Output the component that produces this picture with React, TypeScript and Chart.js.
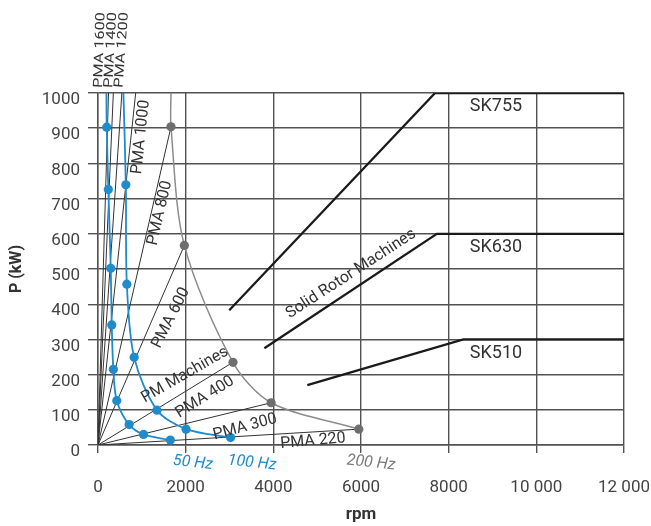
import { useEffect, useRef } from 'react';
import { Chart, registerables } from 'chart.js';

Chart.register(...registerables);

// ---------- data ----------
const xTickLabels = ['0', '2000', '4000', '6000', '8000', '10 000', '12 000'];

const pmaNames = ['PMA 220', 'PMA 300', 'PMA 400', 'PMA 600', 'PMA 800', 'PMA 1000', 'PMA 1200', 'PMA 1400', 'PMA 1600'];
const pmaEndRpm = [5950, 3950, 3080, 1970, 1665, 860, 545, 350, 240];
const pmaEndKw = [45, 120, 235, 567, 904, 1000, 1000, 1000, 1000];

const hz50Rpm = [1650, 1038, 710, 428, 350, 314, 291, 236, 199, 192];
const hz50Kw = [14, 30, 58, 126, 215, 341, 502, 726, 903, 1000];

const hz100Rpm = [3024, 2009, 1345, 825, 658, 635, 580];
const hz100Kw = [21, 45, 99, 249, 457, 739, 1000];

const hz200Rpm = [5950, 3950, 3080, 1970, 1665, 1665];
const hz200Kw = [45, 120, 235, 567, 904, 1000];

const sk755Rpm = [2995, 7690, 12000];
const sk755Kw = [383, 1000, 1000];
const sk630Rpm = [3795, 7730, 12000];
const sk630Kw = [275, 600, 600];
const sk510Rpm = [4775, 8335, 12000];
const sk510Kw = [170, 300, 300];

// ---------- styles ----------
const FONT = 'Roboto, "DejaVu Sans", sans-serif';
const BLUE = '#1f8bcb';
const GRAY_DOT = '#6e6e6e';
const GRAY_LINE = '#8c8c8c';
const DARK = '#333333';
const GRID = '#525252';

type Label = { text: string; x: number; y: number; rot: number; size: number; color: string; italic?: boolean; sx?: number };

const annotations: Label[] = [
  { text: 'PMA 1600', x: 46, y: 1122, rot: -88, size: 13, color: DARK, sx: 1.25 },
  { text: 'PMA 1400', x: 297, y: 1122, rot: -87, size: 13, color: DARK, sx: 1.25 },
  { text: 'PMA 1200', x: 548, y: 1122, rot: -86, size: 13, color: DARK, sx: 1.25 },
  { text: 'PMA 1000', x: 981, y: 875, rot: -84, size: 16, color: DARK },
  { text: 'PMA 800', x: 1414, y: 659, rot: -77, size: 16, color: DARK },
  { text: 'PMA 600', x: 1665, y: 361, rot: -63, size: 16, color: DARK },
  { text: 'PM Machines', x: 1985, y: 199, rot: -30, size: 16, color: DARK },
  { text: 'PMA 400', x: 2441, y: 136, rot: -32, size: 16, color: DARK },
  { text: 'PMA 300', x: 3354, y: 51, rot: -15, size: 16, color: DARK },
  { text: 'PMA 220', x: 4905, y: 11, rot: -5, size: 16, color: DARK },
  { text: 'Solid Rotor Machines', x: 5772, y: 486, rot: -33, size: 16, color: DARK },
  { text: 'SK755', x: 9080, y: 963, rot: 0, size: 18, color: DARK },
  { text: 'SK630', x: 9080, y: 562, rot: 0, size: 18, color: DARK },
  { text: 'SK510', x: 9080, y: 259, rot: 0, size: 18, color: DARK },
  { text: '50 Hz', x: 2167, y: -51, rot: 6, size: 16, color: BLUE, italic: true },
  { text: '100 Hz', x: 3513, y: -51, rot: 6, size: 16, color: BLUE, italic: true },
  { text: '200 Hz', x: 6228, y: -51, rot: 6, size: 16, color: '#7a7a7a', italic: true },
];

const pts = (xs: number[], ys: number[]) => xs.map((x, i) => ({ x, y: ys[i] }));

const labelPlugin = {
  id: 'labels',
  afterDatasetsDraw(chart: any) {
    const { ctx, scales } = chart;
    const xs = scales.x;
    const ys = scales.y;
    ctx.save();
    for (const a of annotations) {
      const px = xs.getPixelForValue(a.x);
      const py = ys.getPixelForValue(a.y);
      ctx.save();
      ctx.translate(px, py);
      ctx.rotate((a.rot * Math.PI) / 180);
      if (a.sx) ctx.scale(a.sx, 1);
      ctx.font = `${a.italic ? 'italic ' : ''}${a.size}px ${FONT}`;
      ctx.fillStyle = a.color;
      ctx.textAlign = 'center';
      ctx.textBaseline = 'middle';
      ctx.fillText(a.text, 0, 0);
      ctx.restore();
    }
    ctx.restore();
  },
};

const zeroPad = (s: any) => {
  s.paddingLeft = 0;
  s.paddingRight = 0;
  s.paddingTop = 0;
  s.paddingBottom = 0;
};

export default function App() {
  const ref = useRef<HTMLCanvasElement | null>(null);

  useEffect(() => {
    if (!ref.current) return;
    Chart.defaults.font.family = FONT;

    const lineDs = (data: any[], color: string, width: number, order: number, tension = 0) => ({
      data,
      showLine: true,
      borderColor: color,
      borderWidth: width,
      pointRadius: 0,
      pointHoverRadius: 0,
      tension,
      fill: false,
      order,
    });
    const dotDs = (data: any[], color: string) => ({
      data,
      showLine: false,
      pointRadius: 4.6,
      pointHoverRadius: 4.6,
      pointBackgroundColor: color,
      pointBorderWidth: 0,
      order: 0,
    });

    const datasets: any[] = [];
    pmaNames.forEach((name, i) => {
      datasets.push({ label: name, ...lineDs([{ x: 0, y: 0 }, { x: pmaEndRpm[i], y: pmaEndKw[i] }], DARK, 1, 3) });
    });
    datasets.push({ label: 'SK755', ...lineDs(pts(sk755Rpm, sk755Kw), '#1a1a1a', 2.3, 3) });
    datasets.push({ label: 'SK630', ...lineDs(pts(sk630Rpm, sk630Kw), '#1a1a1a', 2.3, 3) });
    datasets.push({ label: 'SK510', ...lineDs(pts(sk510Rpm, sk510Kw), '#1a1a1a', 2.3, 3) });
    datasets.push({ label: '200 Hz', ...lineDs(pts(hz200Rpm, hz200Kw), GRAY_LINE, 1.5, 2, 0.3) });
    datasets.push({ label: '100 Hz', ...lineDs(pts(hz100Rpm, hz100Kw), BLUE, 1.8, 2, 0.3) });
    datasets.push({ label: '50 Hz', ...lineDs(pts(hz50Rpm, hz50Kw), BLUE, 1.8, 2, 0.3) });
    datasets.push({ label: '200 Hz dots', ...dotDs(pts(hz200Rpm.slice(0, -1), hz200Kw.slice(0, -1)), GRAY_DOT) });
    datasets.push({ label: '100 Hz dots', ...dotDs(pts(hz100Rpm.slice(0, -1), hz100Kw.slice(0, -1)), BLUE) });
    datasets.push({ label: '50 Hz dots', ...dotDs(pts(hz50Rpm.slice(0, -1), hz50Kw.slice(0, -1)), BLUE) });

    const chart = new Chart(ref.current, {
      type: 'scatter',
      data: { datasets },
      options: {
        animation: false,
        responsive: false,
        events: [],
        layout: { padding: { left: 0, top: 93, right: 27, bottom: 0 } },
        plugins: { legend: { display: false }, tooltip: { enabled: false } },
        scales: {
          x: {
            type: 'linear',
            min: 0,
            max: 12000,
            afterFit: (s: any) => {
              s.height = 81;
              zeroPad(s);
            },
            ticks: {
              stepSize: 2000,
              callback: (_v: any, i: number) => xTickLabels[i],
              font: { size: 17, family: FONT },
              color: '#444',
              padding: 25,
              maxRotation: 0,
            },
            grid: { color: GRID, lineWidth: 1.4, tickLength: 8 },
            border: { color: GRID, width: 1.4 },
            title: {
              display: true,
              text: 'rpm',
              font: { size: 17, weight: 'bold', family: FONT },
              color: '#333',
              padding: { top: 0, bottom: 1 },
            },
          },
          y: {
            type: 'linear',
            min: 0,
            max: 1000,
            afterFit: (s: any) => {
              s.width = 98;
              zeroPad(s);
            },
            ticks: {
              stepSize: 100,
              callback: (v: any) => `${v}`,
              font: { size: 17, family: FONT },
              color: '#444',
              padding: 8,
              labelOffset: 7,
            },
            grid: { color: GRID, lineWidth: 1.4, tickLength: 10 },
            border: { color: GRID, width: 1.4 },
            title: {
              display: true,
              text: 'P (kW)',
              font: { size: 16, weight: 'bold', family: FONT },
              color: '#333',
              padding: { top: 7, bottom: 0 },
            },
          },
        },
      },
      plugins: [labelPlugin],
    } as any);

    return () => chart.destroy();
  }, []);

  return (
    <div style={{ position: 'fixed', left: 0, top: 0, width: 651, height: 526, background: '#fff' }}>
      <canvas ref={ref} width={651} height={526} />
    </div>
  );
}
